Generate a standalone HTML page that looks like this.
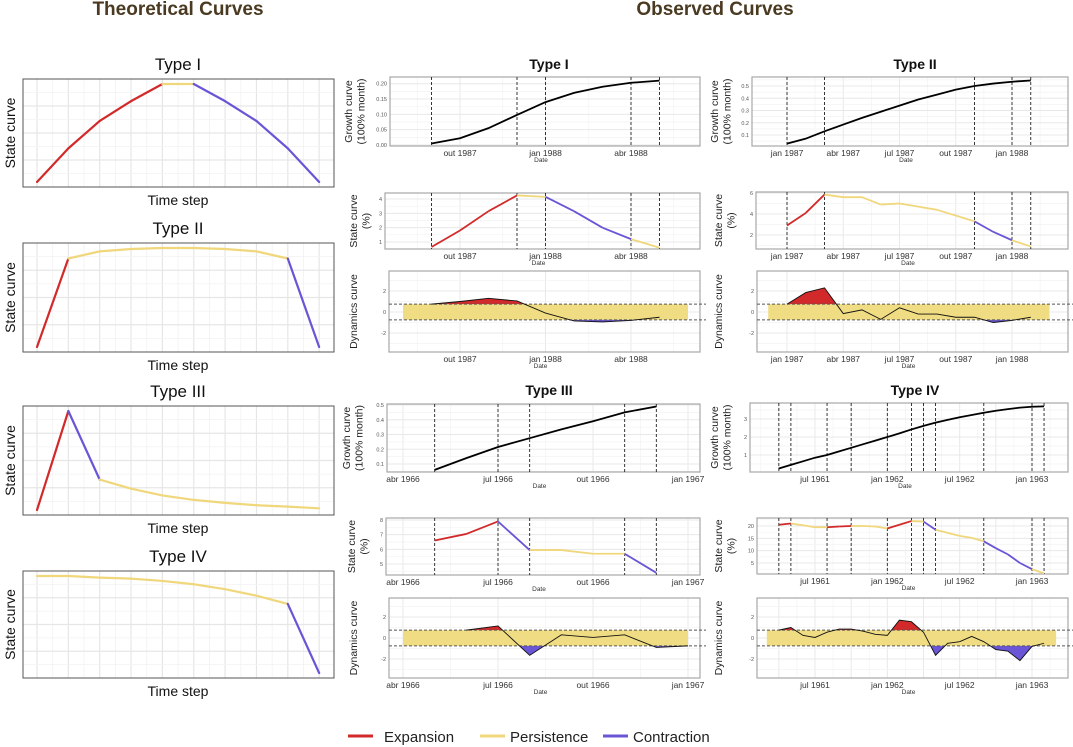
<!DOCTYPE html>
<html><head><meta charset="utf-8">
<style>
html,body{margin:0;padding:0;background:#fff;}
svg{display:block;font-family:"Liberation Sans",sans-serif;}
</style></head>
<body>
<svg id="fig" width="1073" height="747" viewBox="0 0 1073 747" xmlns="http://www.w3.org/2000/svg">
<text x="178" y="15" text-anchor="middle" font-size="19" font-weight="bold" fill="#4b3a22">Theoretical Curves</text>
<text x="715" y="15" text-anchor="middle" font-size="19" font-weight="bold" fill="#4b3a22">Observed Curves</text>
<g>
<line x1="348" y1="736" x2="373" y2="736" stroke="#d22a2a" stroke-width="3"/>
<text x="384" y="742" font-size="15" fill="#222">Expansion</text>
<line x1="480" y1="736" x2="505" y2="736" stroke="#f0d77b" stroke-width="3"/>
<text x="510" y="742" font-size="15" fill="#222">Persistence</text>
<line x1="603" y1="736" x2="628" y2="736" stroke="#6a55d6" stroke-width="3"/>
<text x="633" y="742" font-size="15" fill="#222">Contraction</text>
</g>
</svg>
<script>
// ---------- Theoretical data ----------
const thI = [0,0.343,0.623,0.825,1,1,0.825,0.623,0.343,0];
const thIPh = ["E","E","E","E","P","C","C","C","C"];
const thII = [0,0.894,0.966,0.99,1,1,0.99,0.966,0.894,0];
const thIIPh = ["E","P","P","P","P","P","P","P","C"];
const thIII = [0,1,0.307,0.215,0.147,0.102,0.072,0.048,0.034,0.017];
const thIIIPh = ["E","C","P","P","P","P","P","P","P"];
const thIV = [1,1,0.983,0.973,0.949,0.915,0.864,0.797,0.712,0];
const thIVPh = ["P","P","P","P","P","P","P","P","C"];

// ---------- Observed: Type I ----------
const t1Dates = ["1987-09","1987-10","1987-11","1987-12","1988-01","1988-02","1988-03","1988-04","1988-05"];
const t1Growth = [0.005,0.022,0.055,0.098,0.14,0.17,0.19,0.203,0.21];
const t1State = [0.65,1.8,3.15,4.25,4.15,3.15,2.0,1.2,0.6];
const t1Phases = ["E","E","E","P","C","C","C","P"];
const t1Dyn = [0.75,1.0,1.3,1.05,-0.1,-0.85,-0.95,-0.8,-0.5];
const t1VLines = ["1987-09","1987-12","1988-01","1988-04","1988-05"];
const t1XTicks = ["1987-10","1988-01","1988-04"];
const t1GrowthTicks = [0,0.05,0.1,0.15,0.2];
const t1StateTicks = [1,2,3,4];

// ---------- Type II ----------
const t2Dates = ["1987-01","1987-02","1987-03","1987-04","1987-05","1987-06","1987-07","1987-08","1987-09","1987-10","1987-11","1987-12","1988-01","1988-02"];
const t2Growth = [0.03,0.07,0.13,0.185,0.24,0.29,0.34,0.39,0.43,0.47,0.5,0.52,0.535,0.545];
const t2State = [2.9,4.1,5.85,5.6,5.6,4.9,5.0,4.7,4.4,3.85,3.3,2.3,1.5,0.9];
const t2Phases = ["E","E","P","P","P","P","P","P","P","P","C","C","P"];
const t2Dyn = [0.75,1.85,2.3,-0.15,0.2,-0.7,0.4,-0.2,-0.2,-0.5,-0.5,-1.0,-0.8,-0.5];
const t2VLines = ["1987-01","1987-03","1987-11","1988-01","1988-02"];
const t2XTicks = ["1987-01","1987-04","1987-07","1987-10","1988-01"];
const t2GrowthTicks = [0.1,0.2,0.3,0.4,0.5];
const t2StateTicks = [2,4,6];

// ---------- Type III ----------
const t3Dates = ["1966-05","1966-06","1966-07","1966-08","1966-09","1966-10","1966-11","1966-12"];
const t3Growth = [0.06,0.14,0.215,0.275,0.335,0.39,0.45,0.49];
const t3State = [6.6,7.05,7.9,5.95,5.95,5.7,5.7,4.4];
const t3Phases = ["E","E","C","P","P","P","C"];
const t3DynDates = ["1966-06","1966-07","1966-08","1966-09","1966-10","1966-11","1966-12","1967-01"];
const t3Dyn = [0.75,1.15,-1.65,0.3,0.05,0.3,-0.9,-0.75];
const t3VLines = ["1966-05","1966-07","1966-08","1966-11","1966-12"];
const t3XTicks = ["1966-04","1966-07","1966-10","1967-01"];
const t3GrowthTicks = [0.1,0.2,0.3,0.4,0.5];
const t3StateTicks = [5,6,7,8];

// ---------- Type IV ----------
const t4Dates = ["1961-04","1961-05","1961-06","1961-07","1961-08","1961-09","1961-10","1961-11","1961-12","1962-01","1962-02","1962-03","1962-04","1962-05","1962-06","1962-07","1962-08","1962-09","1962-10","1962-11","1962-12","1963-01","1963-02"];
const t4Growth = [0.25,0.45,0.65,0.85,1.0,1.2,1.4,1.6,1.8,2.0,2.2,2.42,2.62,2.8,2.95,3.1,3.22,3.35,3.46,3.55,3.63,3.68,3.7];
const t4State = [20.5,21,20.3,19.5,19.5,19.8,20,20,19.8,19,20.5,22,21.8,18.5,17.2,16,15.2,13.8,11,8.5,5,2.5,0.8];
const t4Phases = ["E","P","P","P","E","E","P","P","P","E","E","P","C","P","P","P","P","C","C","C","C","P"];
const t4Dyn = [0.75,1.0,0.25,0.05,0.55,0.85,0.85,0.65,0.35,0.25,1.7,1.55,0.55,-1.65,-0.5,-0.35,0.15,-0.35,-1.1,-1.25,-2.15,-0.8,-0.5];
const t4VLines = ["1961-04","1961-05","1961-08","1961-10","1962-01","1962-03","1962-04","1962-05","1962-09","1963-01","1963-02"];
const t4XTicks = ["1961-07","1962-01","1962-07","1963-01"];
const t4GrowthTicks = [1,2,3];
const t4StateTicks = [5,10,15,20];

const dynTicks = [-2,0,2];
const monthNames = ["jan","fev","mar","abr","mai","jun","jul","ago","set","out","nov","dez"];

const NS = "http://www.w3.org/2000/svg";
const svg = document.getElementById("fig");
const COL = {E:"#d22a2a",P:"#f0d77b",C:"#6a55d6"};
function mk(tag, attrs, parent){
  const e = document.createElementNS(NS, tag);
  for (const k in attrs) e.setAttribute(k, attrs[k]);
  (parent||svg).appendChild(e);
  return e;
}
function mnum(s){ const p = s.split("-"); return (+p[0])*12 + (+p[1]-1); }
function mlabel(s){ const p = s.split("-"); return monthNames[+p[1]-1] + " " + p[0]; }
function lin(d0,r0,d1,r1){ return v => r0 + (v-d0)*(r1-r0)/(d1-d0); }
function inv(d0,r0,d1,r1){ return p => d0 + (p-r0)*(d1-d0)/(r1-r0); }

// ---------- Theoretical panels ----------
function theo(title, vals, phases, y0, y1, nm){
  const g = mk("g", {});
  
  
  const t = mk("text", {x:178, y:y0-9, "text-anchor":"middle", "font-size":17, fill:"#111"}, g);
  t.textContent = title;
  
  
  mk("rect", {x:23, y:y0, width:311, height:y1-y0, fill:"#fff"}, g);
  const xs = i => 37 + i*31.35;
  for (let i=0;i<vals.length;i++){
    mk("line",{x1:xs(i),x2:xs(i),y1:y0,y2:y1,stroke:"#e6e6e6","stroke-width":1.2},g);
    if (i<vals.length-1) mk("line",{x1:xs(i)+15.7,x2:xs(i)+15.7,y1:y0,y2:y1,stroke:"#f2f2f2","stroke-width":0.8},g);
  }
  for (let k=1;k<8;k++){ const yy = y0 + k*(y1-y0)/8; mk("line",{x1:23,x2:334,y1:yy,y2:yy,stroke:k%2?"#f2f2f2":"#e6e6e6","stroke-width":k%2?0.8:1.2},g); }
  mk("rect", {x:23, y:y0, width:311, height:y1-y0, fill:"none", stroke:"#555", "stroke-width":1}, g);
  const ys = v => (y1-5) - v*(y1-y0-10);
  for (let i=0;i<vals.length-1;i++){
    const s = mk("line",{x1:xs(i),y1:ys(vals[i]),x2:xs(i+1),y2:ys(vals[i+1]),stroke:COL[phases[i]],"stroke-width":2.2,"stroke-linecap":"round"},g);
    
    
  }
  const xl = mk("text",{x:178,y:y1+18,"text-anchor":"middle","font-size":14,fill:"#111"},g);
  xl.textContent = "Time step";
  
  
  const yl = mk("text",{x:0,y:0,"text-anchor":"middle","font-size":14,fill:"#111",transform:`translate(15,${(y0+y1)/2}) rotate(-90)`},g);
  yl.textContent = "State curve";
  
  
}
theo("Type I", thI, thIPh, 79, 187, "theoretical-type-i");
theo("Type II", thII, thIIPh, 243, 352, "theoretical-type-ii");
theo("Type III", thIII, thIIIPh, 406, 515, "theoretical-type-iii");
theo("Type IV", thIV, thIVPh, 571, 678, "theoretical-type-iv");

// ---------- Observed panels ----------
function frame(g, box, xs, ys, xticks, yticks, fmt){
  mk("rect",{x:box.x0,y:box.y0,width:box.x1-box.x0,height:box.y1-box.y0,fill:"#fff"},g);
  const mIn = inv(0,xs(0),1,xs(1));
  const mLo = Math.ceil(mIn(box.x0)), mHi = Math.floor(mIn(box.x1));
  const t0 = mnum(xticks[0]);
  for (let m=mLo;m<=mHi;m++){
    const d = ((m - t0)%3+3)%3;
    if (d===0) mk("line",{x1:xs(m),x2:xs(m),y1:box.y0,y2:box.y1,stroke:"#e8e8e8","stroke-width":1},g);
    else if (d===1) { const xx = xs(m+0.5); if (xx>box.x0&&xx<box.x1) mk("line",{x1:xx,x2:xx,y1:box.y0,y2:box.y1,stroke:"#f3f3f3","stroke-width":0.7},g); }
  }
  const step = yticks.length>1 ? yticks[1]-yticks[0] : 1;
  for (let k=-3;k<yticks.length+3;k++){
    const v = yticks[0]+k*step, yy = ys(v), ym = ys(v+step/2);
    if (yy>box.y0 && yy<box.y1) mk("line",{x1:box.x0,x2:box.x1,y1:yy,y2:yy,stroke:"#e8e8e8","stroke-width":1},g);
    if (ym>box.y0 && ym<box.y1) mk("line",{x1:box.x0,x2:box.x1,y1:ym,y2:ym,stroke:"#f3f3f3","stroke-width":0.7},g);
  }
  mk("rect",{x:box.x0,y:box.y0,width:box.x1-box.x0,height:box.y1-box.y0,fill:"none",stroke:"#a8a8a8","stroke-width":1.2},g);
  yticks.forEach(v=>{
    const t = mk("text",{x:box.x0-3,y:ys(v)+2,"text-anchor":"end","font-size":5.5,fill:"#555"},g);
    t.textContent = fmt(v);
    
    
  });
  xticks.forEach(d=>{
    const t = mk("text",{x:xs(mnum(d)),y:box.y1+10,"text-anchor":"middle","font-size":8.5,fill:"#333"},g);
    t.textContent = mlabel(d);
    
    
  });
  const dl = mk("text",{x:(box.x0+box.x1)/2-4,y:box.y1+16,"text-anchor":"middle","font-size":6.5,fill:"#333"},g);
  dl.textContent = "Date";
  
  
}
function ytitle(g, lines, x, cy){
  lines.forEach((s,i)=>{
    const t = mk("text",{x:0,y:0,"text-anchor":"middle","font-size":10.5,fill:"#222",transform:`translate(${x+i*12.5},${cy}) rotate(-90)`},g);
    t.textContent = s;
    
    
  });
}
function vlines(g, box, xs, list){
  list.forEach(d=>{
    const l = mk("line",{x1:xs(mnum(d)),x2:xs(mnum(d)),y1:box.y0,y2:box.y1,stroke:"#222","stroke-width":0.9,"stroke-dasharray":"3,2"},g);
    
    
  });
}
function growthPlot(nm, box, xs, ya, yticks, fmt, dates, vals, vl, xticks, tx){
  const g = mk("g",{});
  
  
  const ys = lin(ya[0],ya[1],ya[2],ya[3]);
  frame(g, box, xs, ys, xticks, yticks, fmt);
  vlines(g, box, xs, vl);
  const p = mk("polyline",{points:dates.map((d,i)=>xs(mnum(d))+","+ys(vals[i])).join(" "),fill:"none",stroke:"#000","stroke-width":1.8},g);
  
  
  ytitle(g, ["Growth curve","(100% month)"], tx, (box.y0+box.y1)/2);
}
function statePlot(nm, box, xs, ya, yticks, dates, vals, ph, vl, xticks, tx){
  const g = mk("g",{});
  
  
  const ys = lin(ya[0],ya[1],ya[2],ya[3]);
  frame(g, box, xs, ys, xticks, yticks, v=>String(v));
  vlines(g, box, xs, vl);
  for (let i=0;i<vals.length-1;i++){
    const s = mk("line",{x1:xs(mnum(dates[i])),y1:ys(vals[i]),x2:xs(mnum(dates[i+1])),y2:ys(vals[i+1]),stroke:COL[ph[i]],"stroke-width":1.8},g);
    
    
  }
  ytitle(g, ["State curve","(%)"], tx, (box.y0+box.y1)/2);
}
function dynPlot(nm, box, xs, ya, dates, vals, band, xticks, tx, dashEnd){
  const g = mk("g",{});
  
  
  const ys = lin(ya[0],ya[1],ya[2],ya[3]);
  frame(g, box, xs, ys, xticks, dynTicks, v=>String(v));
  const th = 0.75;
  const b = mk("rect",{x:xs(mnum(band[0])),y:ys(th),width:xs(mnum(band[1]))-xs(mnum(band[0])),height:ys(-th)-ys(th),fill:"#f0dc82"},g);
  
  
  // build dense points with threshold crossings
  const pts = [];
  for (let i=0;i<vals.length;i++){
    const x = mnum(dates[i]), v = vals[i];
    pts.push([x,v]);
    if (i<vals.length-1){
      const x2 = mnum(dates[i+1]), v2 = vals[i+1];
      [th,-th].forEach(t=>{
        if ((v-t)*(v2-t)<0){ const f=(t-v)/(v2-v); pts.push([x+f*(x2-x), t]); }
      });
      pts.sort((a,c)=>a[0]-c[0]);
    }
  }
  pts.sort((a,c)=>a[0]-c[0]);
  const first = pts[0][0], last = pts[pts.length-1][0];
  const up = pts.map(p=>xs(p[0])+","+ys(Math.max(p[1],th))).join(" ") + ` ${xs(last)},${ys(th)} ${xs(first)},${ys(th)}`;
  const dn = pts.map(p=>xs(p[0])+","+ys(Math.min(p[1],-th))).join(" ") + ` ${xs(last)},${ys(-th)} ${xs(first)},${ys(-th)}`;
  const pu = mk("polygon",{points:up,fill:"#d22a2a"},g);
  
  
  const pd = mk("polygon",{points:dn,fill:"#6a55d6"},g);
  
  
  [th,-th].forEach(t=>{
    const l = mk("line",{x1:box.x0,x2:dashEnd,y1:ys(t),y2:ys(t),stroke:"#555","stroke-width":1,"stroke-dasharray":"3,2"},g);
    
    
  });
  const p = mk("polyline",{points:dates.map((d,i)=>xs(mnum(d))+","+ys(vals[i])).join(" "),fill:"none",stroke:"#111","stroke-width":0.9},g);
  
  
  ytitle(g, ["Dynamics curve"], tx, (box.y0+box.y1)/2);
}
function subtitle(s, x, y, nm){
  const t = mk("text",{x:x,y:y,"text-anchor":"middle","font-size":14,"font-weight":"bold",fill:"#111"});
  t.textContent = s;
  
  
}
const f2 = v=>v.toFixed(2), f1 = v=>v.toFixed(1), f0 = v=>String(v);

// Type I
const x1s = lin(mnum("1987-10"),460,mnum("1988-01"),545.5);
subtitle("Type I",549,69,"type-i-title");
growthPlot("type-i-growth",{x0:390,x1:700,y0:77,y1:146},x1s,[0,145,0.2,83.7],t1GrowthTicks,f2,t1Dates,t1Growth,t1VLines,t1XTicks,352);
statePlot("type-i-state",{x0:385,x1:700,y0:193,y1:249},x1s,[1,242,4,199],t1StateTicks,t1Dates,t1State,t1Phases,t1VLines,t1XTicks,357);
dynPlot("type-i-dynamics",{x0:389,x1:700,y0:271,y1:352},x1s,[0,312,2,291],t1Dates,t1Dyn,["1987-08","1988-06"],t1XTicks,357,706);

// Type II
const x2s = lin(mnum("1987-01"),787,mnum("1988-01"),1012);
subtitle("Type II",915,69,"type-ii-title");
growthPlot("type-ii-growth",{x0:752,x1:1068,y0:77,y1:146},x2s,[0.1,135,0.5,86],t2GrowthTicks,f1,t2Dates,t2Growth,t2VLines,t2XTicks,718);
statePlot("type-ii-state",{x0:756,x1:1068,y0:192,y1:249},x2s,[2,235,6,193],t2StateTicks,t2Dates,t2State,t2Phases,t2VLines,t2XTicks,722);
dynPlot("type-ii-dynamics",{x0:757,x1:1068,y0:271,y1:352},x2s,[0,312,2,291],t2Dates,t2Dyn,["1986-12","1988-03"],t2XTicks,722,1073);

// Type III
const x3s = lin(mnum("1966-04"),403,mnum("1967-01"),688);
subtitle("Type III",549,395,"type-iii-title");
growthPlot("type-iii-growth",{x0:387,x1:700,y0:404,y1:472},x3s,[0.1,464,0.5,405],t3GrowthTicks,f1,t3Dates,t3Growth,t3VLines,t3XTicks,350);
statePlot("type-iii-state",{x0:386,x1:700,y0:518,y1:575},x3s,[5,564,8,520],t3StateTicks,t3Dates,t3State,t3Phases,t3VLines,t3XTicks,355);
dynPlot("type-iii-dynamics",{x0:389,x1:700,y0:598,y1:678},x3s,[0,638,2,617],t3DynDates,t3Dyn,["1966-04","1967-01"],t3XTicks,357,706);

// Type IV
const x4s = lin(mnum("1961-07"),815,mnum("1963-01"),1032);
subtitle("Type IV",915,395,"type-iv-title");
growthPlot("type-iv-growth",{x0:750,x1:1068,y0:403,y1:472},x4s,[1,455,3,419],t4GrowthTicks,f0,t4Dates,t4Growth,t4VLines,t4XTicks,718);
statePlot("type-iv-state",{x0:757,x1:1068,y0:518,y1:574},x4s,[5,563,20,526],t4StateTicks,t4Dates,t4State,t4Phases,t4VLines,t4XTicks,722);
dynPlot("type-iv-dynamics",{x0:757,x1:1068,y0:598,y1:678},x4s,[0,638,2,617],t4Dates,t4Dyn,["1961-03","1963-03"],t4XTicks,722,1073);
</script>
</body></html>
